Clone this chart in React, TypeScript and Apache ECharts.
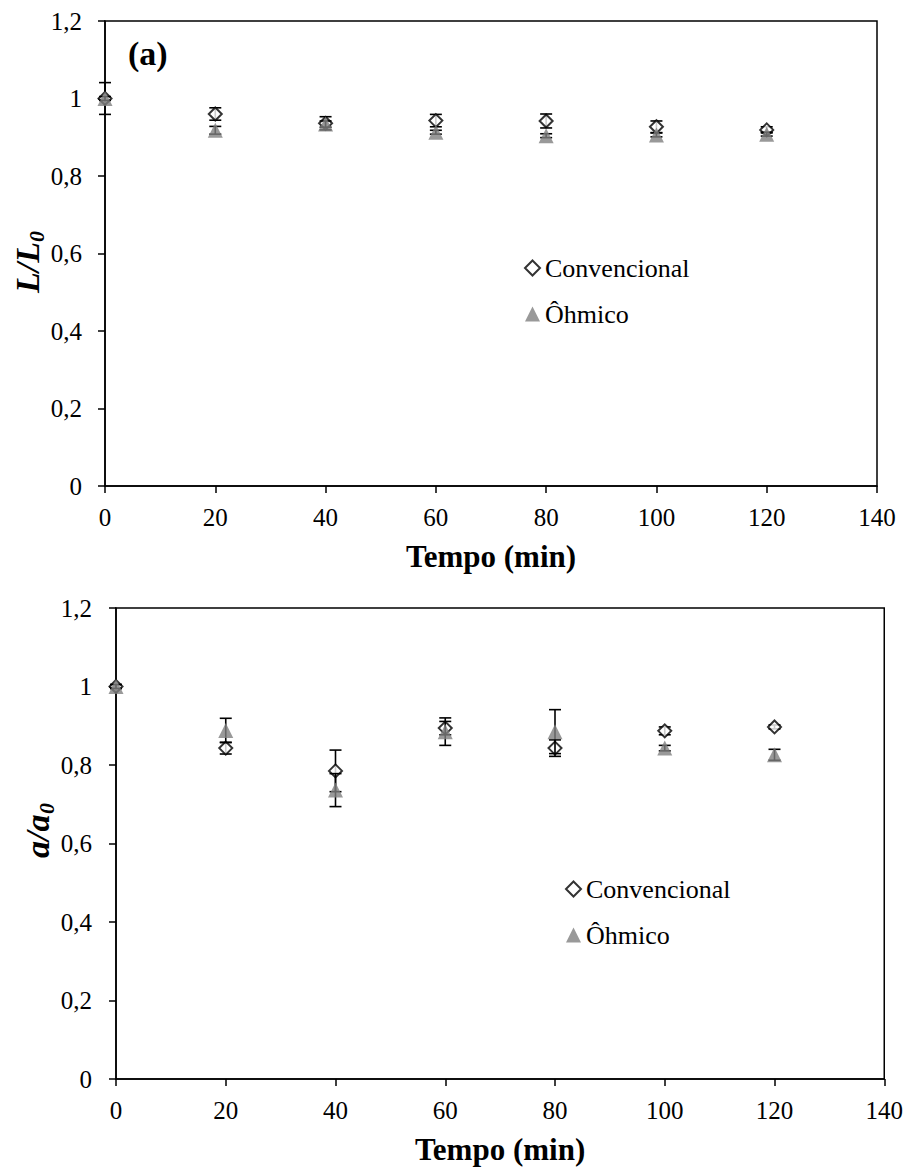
import React, { useEffect, useRef } from "react";
import * as echarts from "echarts";

// ---- Data ----
const tempo = [0, 20, 40, 60, 80, 100, 120];

// Chart (a): L/L0
const convL = [1.0, 0.96, 0.936, 0.943, 0.942, 0.927, 0.919];
const convLErr = [0.041, 0.016, 0.017, 0.016, 0.018, 0.015, 0.008];
const ohmL = [1.0, 0.918, 0.934, 0.913, 0.904, 0.906, 0.908];
const ohmLErr = [0.005, 0.01, 0.008, 0.005, 0.005, 0.005, 0.005];

// Chart (b): a/a0
const convA = [1.0, 0.843, 0.785, 0.894, 0.843, 0.887, 0.897];
const convAErr = [0.005, 0.015, 0.053, 0.017, 0.021, 0.01, 0.005];
const ohmA = [1.0, 0.888, 0.736, 0.885, 0.885, 0.843, 0.826];
const ohmAErr = [0.005, 0.031, 0.042, 0.035, 0.056, 0.007, 0.014];

const xTicks = { min: 0, max: 140, interval: 20 };
const yTicks = { min: 0, max: 1.2, interval: 0.2 };

const SERIF = "Liberation Serif";

function errBarRender(params: any, api: any) {
  const x = api.value(0);
  const y = api.value(1);
  const e = api.value(2);
  const hi = api.coord([x, y + e]);
  const lo = api.coord([x, y - e]);
  const cw = 6;
  const st = { stroke: "#000", lineWidth: 1.6 };
  return {
    type: "group",
    children: [
      { type: "line", shape: { x1: hi[0], y1: hi[1], x2: lo[0], y2: lo[1] }, style: st },
      { type: "line", shape: { x1: hi[0] - cw, y1: hi[1], x2: hi[0] + cw, y2: hi[1] }, style: st },
      { type: "line", shape: { x1: lo[0] - cw, y1: lo[1], x2: lo[0] + cw, y2: lo[1] }, style: st },
    ],
  };
}

function seriesFor(idx: number, conv: number[], convErr: number[], ohm: number[], ohmErr: number[]) {
  const convData = tempo.map((t, i) => [t, conv[i]]);
  const ohmData = tempo.map((t, i) => [t, ohm[i]]);
  const convEb = tempo.map((t, i) => [t, conv[i], convErr[i]]);
  const ohmEb = tempo.map((t, i) => [t, ohm[i], ohmErr[i]]);
  return [
    {
      type: "custom",
      name: "convErr" + idx,
      xAxisIndex: idx,
      yAxisIndex: idx,
      renderItem: errBarRender,
      data: convEb,
      encode: { x: 0, y: 1 },
      z: 2,
      silent: true,
    },
    {
      type: "scatter",
      name: "Convencional",
      xAxisIndex: idx,
      yAxisIndex: idx,
      symbol: "diamond",
      symbolSize: 13,
      itemStyle: { color: "#fff", borderColor: "#000", borderWidth: 2 },
      data: convData,
      z: 3,
    },
    {
      type: "custom",
      name: "ohmErr" + idx,
      xAxisIndex: idx,
      yAxisIndex: idx,
      renderItem: errBarRender,
      data: ohmEb,
      encode: { x: 0, y: 1 },
      z: 4,
      silent: true,
    },
    {
      type: "scatter",
      name: "Ôhmico",
      xAxisIndex: idx,
      yAxisIndex: idx,
      symbol: "triangle",
      symbolSize: 15,
      itemStyle: { color: "#808080" },
      data: ohmData,
      z: 5,
    },
  ];
}

function xAxisFor(idx: number) {
  return {
    type: "value",
    gridIndex: idx,
    ...xTicks,
    axisLine: { show: true, onZero: false, lineStyle: { color: "#000", width: 1.5 } },
    axisTick: { show: true, inside: false, length: 7, lineStyle: { color: "#000", width: 1.5 } },
    axisLabel: { margin: 19, fontSize: 25, color: "#000", fontFamily: SERIF },
    splitLine: { show: false },
    name: "Tempo (min)",
    nameLocation: "middle",
    nameGap: 55,
    nameTextStyle: { fontSize: 31, fontWeight: "bold", color: "#000", fontFamily: SERIF },
  };
}

function yAxisFor(idx: number, margin: number) {
  return {
    type: "value",
    gridIndex: idx,
    ...yTicks,
    axisLine: { show: true, onZero: false, lineStyle: { color: "#000", width: 1.5 } },
    axisTick: { show: true, inside: false, length: 7, lineStyle: { color: "#000", width: 1.5 } },
    axisLabel: {
      margin,
      fontSize: 25,
      color: "#000",
      fontFamily: SERIF,
      formatter: (v: number) => String(+v.toFixed(2)).replace(".", ","),
    },
    splitLine: { show: false },
  };
}

function legendFor(left: number, top: number) {
  return {
    orient: "vertical",
    left,
    top,
    padding: 0,
    itemWidth: 15,
    itemHeight: 15,
    itemGap: 20,
    data: ["Convencional", "Ôhmico"],
    textStyle: { fontSize: 26, color: "#000", fontFamily: SERIF },
    selectedMode: false,
  };
}

function yTitle(x: number, y: number, main: string, mainW: number) {
  return {
    type: "group",
    x,
    y,
    rotation: Math.PI / 2,
    children: [
      {
        type: "text",
        x: 0,
        y: 0,
        style: {
          text: main,
          fontFamily: SERIF,
          fontSize: 34,
          fontWeight: "bold",
          fontStyle: "italic",
          fill: "#000",
          align: "left",
          verticalAlign: "middle",
        },
      },
      {
        type: "text",
        x: mainW,
        y: 9,
        style: {
          text: "0",
          fontFamily: SERIF,
          fontSize: 22,
          fontWeight: "bold",
          fontStyle: "italic",
          fill: "#000",
          align: "left",
          verticalAlign: "middle",
        },
      },
    ],
  };
}

export default function App() {
  const ref = useRef<HTMLDivElement>(null);
  useEffect(() => {
    if (!ref.current) return;
    const chart = echarts.init(ref.current, undefined, { renderer: "svg" });
    chart.setOption({
      animation: false,
      backgroundColor: "#fff",
      textStyle: { fontFamily: SERIF },
      grid: [
        { left: 105, top: 21, width: 772, height: 465, show: true, borderColor: "#000", borderWidth: 1.5, backgroundColor: "transparent" },
        { left: 116, top: 608, width: 770, height: 471, show: true, borderColor: "#000", borderWidth: 1.5, backgroundColor: "transparent" },
      ],
      xAxis: [xAxisFor(0), xAxisFor(1)],
      yAxis: [yAxisFor(0, 23), yAxisFor(1, 24)],
      legend: [legendFor(524, 255), legendFor(565, 876)],
      series: [
        ...seriesFor(0, convL, convLErr, ohmL, ohmLErr),
        ...seriesFor(1, convA, convAErr, ohmA, ohmAErr),
      ],
      graphic: [
        {
          type: "text",
          x: 128,
          y: 53,
          style: {
            text: "(a)",
            fontFamily: SERIF,
            fontSize: 34,
            fontWeight: "bold",
            fill: "#000",
            align: "left",
            verticalAlign: "middle",
          },
        },
        yTitle(27, 293, "L/L", 51),
        yTitle(37, 858, "a/a", 44),
      ],
    });
    return () => chart.dispose();
  }, []);
  return (
    <div
      ref={ref}
      style={{ position: "absolute", left: 0, top: 0, width: 906, height: 1171 }}
    />
  );
}
